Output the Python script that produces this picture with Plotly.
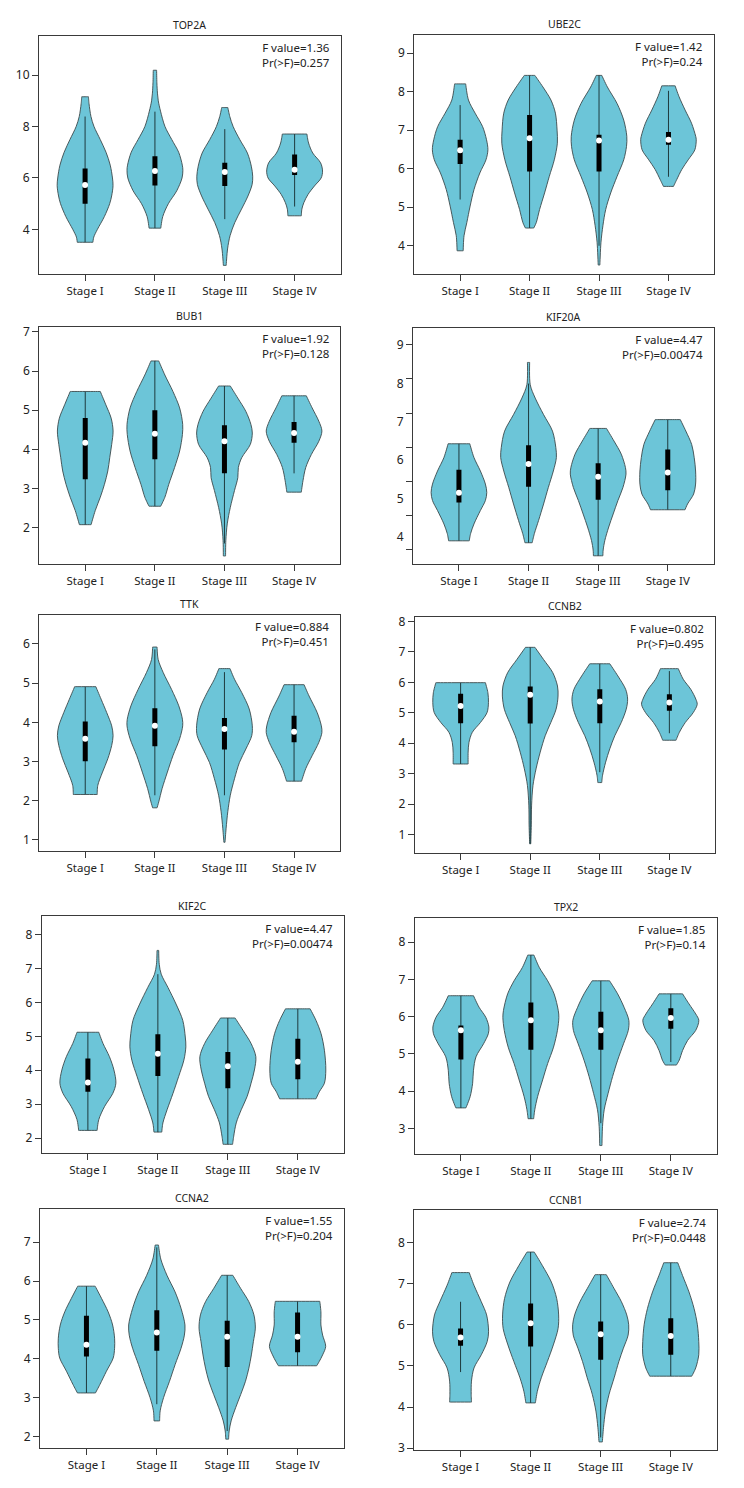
import plotly.graph_objects as go

# ---------------- data ----------------
GENES = ["TOP2A", "UBE2C", "BUB1", "KIF20A", "TTK", "CCNB2", "KIF2C", "TPX2", "CCNA2", "CCNB1"]
STAGES = ["Stage I", "Stage II", "Stage III", "Stage IV"]
F_VALUE = ["1.36", "1.42", "1.92", "4.47", "0.884", "0.802", "4.47", "1.85", "1.55", "2.74"]
P_VALUE = ["0.257", "0.24", "0.128", "0.00474", "0.451", "0.495", "0.00474", "0.14", "0.204", "0.0448"]

MEDIAN = [
    [5.73, 6.27, 6.23, 6.32], [6.48, 6.79, 6.73, 6.75], [4.17, 4.40, 4.21, 4.42],
    [5.15, 5.90, 5.57, 5.68], [3.58, 3.91, 3.83, 3.76], [5.22, 5.59, 5.37, 5.34],
    [3.64, 4.49, 4.12, 4.25], [5.63, 5.90, 5.63, 5.96], [4.36, 4.68, 4.57, 4.57],
    [5.69, 6.04, 5.77, 5.73],
]
Q1 = [
    [5.00, 5.71, 5.69, 6.12], [6.12, 5.93, 5.93, 6.62], [3.24, 3.75, 3.39, 4.17],
    [4.90, 5.31, 4.97, 5.22], [3.01, 3.39, 3.31, 3.49], [4.66, 4.65, 4.66, 5.07],
    [3.37, 3.83, 3.47, 3.74], [4.85, 5.11, 5.11, 5.67], [4.06, 4.21, 3.79, 4.17],
    [5.49, 5.47, 5.15, 5.27],
]
Q3 = [
    [6.37, 6.85, 6.59, 6.91], [6.75, 7.39, 6.88, 6.95], [4.80, 5.00, 4.62, 4.70],
    [5.75, 6.39, 5.92, 6.28], [4.02, 4.36, 4.11, 4.17], [5.63, 5.86, 5.77, 5.61],
    [4.35, 5.06, 4.54, 4.93], [5.76, 6.38, 6.13, 6.22], [5.11, 5.25, 4.98, 5.19],
    [5.91, 6.52, 6.08, 6.16],
]
WHISKER_LOW = [
    [3.50, 4.05, 4.40, 4.89], [5.20, 4.46, 4.00, 5.79], [2.08, 2.55, 1.60, 3.39],
    [3.90, 3.85, 3.51, 4.71], [2.16, 2.14, 2.14, 2.50], [3.32, 0.70, 3.05, 4.33],
    [2.23, 2.18, 1.82, 3.16], [3.55, 3.26, 3.14, 4.78], [3.12, 2.83, 2.14, 3.82],
    [4.85, 4.10, 3.26, 4.75],
]
WHISKER_HIGH = [
    [8.39, 8.58, 7.90, 7.71], [7.65, 8.42, 8.42, 8.02], [5.48, 6.26, 5.62, 5.37],
    [6.43, 8.00, 6.83, 7.06], [4.91, 5.86, 5.28, 4.96], [5.99, 7.15, 6.61, 6.37],
    [5.12, 6.83, 5.54, 5.81], [6.56, 7.65, 6.96, 6.61], [5.87, 6.87, 6.15, 5.48],
    [6.56, 7.77, 7.22, 7.51],
]

# violin outlines: (expression value, relative half-width) read from top to bottom
TOP2A_SHAPE = [
    [(9.16, .12), (8.9, .14), (8.39, .21), (8.0, .32), (7.5, .54), (7.0, .75), (6.5, .90), (6.0, .98), (5.7, 1.0), (5.3, .95), (5.0, .88), (4.5, .69), (4.0, .44), (3.7, .31), (3.5, .28)],
    [(10.19, .06), (9.7, .07), (9.3, .09), (9.0, .12), (8.6, .20), (8.0, .36), (7.5, .60), (7.0, .85), (6.5, .98), (6.3, 1.0), (6.0, .97), (5.5, .78), (5.0, .48), (4.5, .28), (4.05, .21)],
    [(8.74, .11), (8.39, .18), (8.0, .30), (7.49, .54), (6.97, .81), (6.46, .95), (6.07, 1.0), (5.75, .98), (5.3, .83), (4.79, .60), (4.27, .36), (3.76, .19), (3.24, .10), (2.6, .05)],
    [(7.71, .44), (7.36, .50), (6.97, .65), (6.59, .93), (6.27, 1.0), (6.0, .95), (5.69, .71), (5.36, .48), (5.04, .33), (4.79, .26), (4.53, .24)],
]
UBE2C_SHAPE = [
    [(8.2, .20), (7.78, .30), (7.44, .54), (7.09, .81), (6.75, .95), (6.49, 1.0), (6.23, .93), (5.89, .71), (5.46, .50), (5.03, .36), (4.6, .24), (4.26, .14), (3.87, .11)],
    [(8.42, .19), (8.12, .48), (7.78, .77), (7.44, .93), (7.0, .99), (6.66, 1.0), (6.23, .89), (5.8, .71), (5.37, .54), (4.94, .36), (4.6, .24), (4.46, .15)],
    [(8.42, .10), (8.12, .30), (7.69, .65), (7.26, .89), (6.84, 1.0), (6.58, .99), (6.23, .89), (5.8, .65), (5.37, .42), (4.94, .24), (4.52, .14), (4.09, .07), (3.5, .03)],
    [(8.15, .24), (7.87, .38), (7.52, .60), (7.18, .83), (6.84, .98), (6.75, 1.0), (6.49, .95), (6.23, .71), (5.98, .48), (5.72, .30), (5.54, .18)],
]
BUB1_SHAPE = [
    [(5.48, .54), (5.14, .74), (4.8, .93), (4.47, 1.0), (4.13, .95), (3.79, .88), (3.45, .81), (3.11, .69), (2.78, .54), (2.44, .36), (2.08, .21)],
    [(6.26, .14), (5.9, .36), (5.48, .65), (5.06, .89), (4.64, 1.0), (4.38, .99), (3.96, .89), (3.54, .71), (3.11, .50), (2.78, .36), (2.55, .21)],
    [(5.62, .21), (5.31, .48), (4.97, .77), (4.64, .95), (4.42, 1.0), (4.13, .93), (3.79, .62), (3.54, .50), (3.28, .48), (2.95, .36), (2.52, .21), (2.1, .10), (1.68, .05), (1.28, .04)],
    [(5.37, .44), (5.06, .65), (4.72, .89), (4.47, 1.0), (4.21, .89), (3.87, .62), (3.54, .42), (3.2, .32), (2.91, .26)],
]
KIF20A_SHAPE = [
    [(6.43, .39), (6.07, .54), (5.72, .77), (5.38, .95), (5.16, 1.0), (4.95, .95), (4.69, .77), (4.34, .54), (4.09, .42), (3.9, .37)],
    [(8.55, .04), (7.97, .06), (7.62, .24), (7.19, .54), (6.76, .86), (6.33, .98), (6.07, 1.0), (5.72, .89), (5.29, .71), (4.86, .54), (4.43, .36), (4.09, .21), (3.85, .13)],
    [(6.83, .30), (6.5, .57), (6.16, .83), (5.81, .98), (5.64, 1.0), (5.29, .89), (4.95, .71), (4.6, .54), (4.26, .38), (3.91, .24), (3.66, .18), (3.51, .17)],
    [(7.06, .45), (6.76, .65), (6.41, .86), (6.07, .95), (5.72, 1.0), (5.38, 1.0), (5.12, .93), (4.86, .71), (4.71, .62)],
]
TTK_SHAPE = [
    [(4.91, .38), (4.59, .57), (4.25, .77), (3.91, .95), (3.66, 1.0), (3.41, .95), (3.07, .81), (2.73, .62), (2.39, .45), (2.16, .43)],
    [(5.92, .08), (5.6, .12), (5.27, .30), (4.84, .60), (4.42, .86), (4.08, .99), (3.91, 1.0), (3.58, .89), (3.15, .65), (2.73, .45), (2.31, .26), (1.97, .14), (1.82, .08)],
    [(5.37, .20), (5.1, .36), (4.76, .62), (4.34, .89), (3.91, 1.0), (3.66, .98), (3.32, .77), (2.98, .54), (2.56, .36), (2.14, .21), (1.72, .12), (1.3, .06), (0.94, .02)],
    [(4.96, .36), (4.67, .54), (4.25, .83), (3.91, .98), (3.74, 1.0), (3.49, .89), (3.15, .65), (2.82, .42), (2.5, .27)],
]
CCNB2_SHAPE = [
    [(5.99, .89), (5.66, .98), (5.34, 1.0), (5.01, .95), (4.68, .71), (4.36, .42), (4.03, .30), (3.71, .27), (3.32, .27)],
    [(7.15, .17), (6.75, .48), (6.32, .81), (5.88, .98), (5.55, 1.0), (5.12, .93), (4.68, .74), (4.25, .54), (3.71, .36), (3.16, .21), (2.62, .10), (1.97, .05), (1.32, .04), (0.7, .02)],
    [(6.61, .36), (6.21, .65), (5.77, .93), (5.45, 1.0), (5.12, .95), (4.68, .77), (4.25, .54), (3.82, .36), (3.38, .21), (2.95, .10), (2.71, .07)],
    [(6.45, .32), (6.1, .50), (5.77, .77), (5.45, .95), (5.28, 1.0), (5.01, .86), (4.68, .57), (4.36, .36), (4.1, .24)],
]
KIF2C_SHAPE = [
    [(5.12, .39), (4.79, .54), (4.4, .77), (4.01, .93), (3.62, 1.0), (3.32, .89), (2.94, .60), (2.55, .39), (2.23, .33)],
    [(7.53, .03), (7.12, .05), (6.83, .12), (6.44, .36), (5.95, .65), (5.47, .89), (4.98, .98), (4.69, 1.0), (4.3, .93), (3.81, .74), (3.32, .54), (2.84, .33), (2.45, .18), (2.18, .14)],
    [(5.54, .26), (5.18, .54), (4.79, .83), (4.4, 1.0), (4.01, .95), (3.62, .83), (3.23, .69), (2.84, .48), (2.45, .30), (2.06, .21), (1.82, .17)],
    [(5.81, .44), (5.47, .65), (5.08, .83), (4.59, .95), (4.01, 1.0), (3.62, .95), (3.37, .77), (3.16, .65)],
]
TPX2_SHAPE = [
    [(6.56, .45), (6.25, .65), (5.98, .89), (5.72, 1.0), (5.54, .98), (5.27, .81), (4.92, .54), (4.56, .45), (4.21, .42), (3.85, .33), (3.55, .18)],
    [(7.65, .11), (7.32, .30), (6.96, .60), (6.61, .83), (6.16, .98), (5.98, 1.0), (5.63, .95), (5.18, .81), (4.74, .60), (4.3, .42), (3.85, .24), (3.5, .14), (3.26, .10)],
    [(6.96, .31), (6.61, .60), (6.25, .83), (5.9, 1.0), (5.63, .98), (5.27, .81), (4.83, .60), (4.39, .42), (3.94, .26), (3.5, .12), (3.05, .06), (2.54, .04)],
    [(6.61, .42), (6.34, .65), (6.07, .89), (5.9, 1.0), (5.63, .89), (5.36, .60), (5.09, .42), (4.83, .30), (4.7, .20)],
]
CCNA2_SHAPE = [
    [(5.87, .31), (5.55, .54), (5.21, .77), (4.87, .93), (4.53, 1.0), (4.27, 1.0), (4.02, .95), (3.68, .71), (3.34, .48), (3.12, .32)],
    [(6.93, .06), (6.57, .14), (6.15, .36), (5.72, .65), (5.3, .86), (4.87, 1.0), (4.61, .98), (4.27, .86), (3.85, .65), (3.42, .45), (3.0, .24), (2.66, .12), (2.4, .10)],
    [(6.15, .20), (5.81, .48), (5.47, .77), (5.13, .95), (4.79, 1.0), (4.44, .93), (4.1, .86), (3.76, .77), (3.42, .65), (3.08, .48), (2.74, .30), (2.4, .14), (2.14, .07), (1.93, .05)],
    [(5.48, .79), (5.21, .83), (4.87, .83), (4.61, .89), (4.32, 1.0), (4.1, .89), (3.93, .77), (3.82, .68)],
]
CCNB1_SHAPE = [
    [(7.27, .31), (6.96, .48), (6.56, .74), (6.24, .93), (5.83, 1.0), (5.59, .95), (5.27, .74), (4.95, .48), (4.63, .39), (4.31, .38), (4.12, .39)],
    [(7.77, .13), (7.44, .42), (7.04, .74), (6.64, .93), (6.24, 1.0), (5.91, .98), (5.51, .81), (5.11, .60), (4.71, .38), (4.38, .24), (4.1, .17)],
    [(7.22, .20), (6.88, .48), (6.56, .74), (6.24, .93), (6.0, 1.0), (5.75, .98), (5.43, .81), (5.11, .65), (4.71, .48), (4.31, .30), (3.9, .17), (3.5, .10), (3.15, .06)],
    [(7.51, .25), (7.2, .42), (6.8, .65), (6.4, .83), (6.0, .95), (5.59, 1.0), (5.27, 1.0), (4.95, .89), (4.75, .75)],
]
SHAPES = [TOP2A_SHAPE, UBE2C_SHAPE, BUB1_SHAPE, KIF20A_SHAPE, TTK_SHAPE,
          CCNB2_SHAPE, KIF2C_SHAPE, TPX2_SHAPE, CCNA2_SHAPE, CCNB1_SHAPE]

# ---------------- layout (target page pixels in a 744 x 1488 window) ----------------
PAGE_OFFSET = 8          # default body margin of the html page
W, H = 744 - 2 * PAGE_OFFSET, 1488 - 2 * PAGE_OFFSET
PANEL_BOX = [  # left, right, top, bottom (page pixels)
    (39.0, 340.7, 31.7, 271.7), (414.3, 714.3, 30.7, 271.7),
    (39.3, 340.0, 325.0, 564.0), (413.0, 713.7, 325.7, 564.0),
    (39.3, 340.0, 615.0, 852.7), (414.7, 715.3, 616.7, 855.0),
    (41.7, 344.0, 918.3, 1157.3), (414.7, 717.0, 920.0, 1158.3),
    (40.0, 344.0, 1212.7, 1454.3), (414.3, 717.0, 1214.3, 1456.0),
]
Y_RANGE = [(2.27, 11.54), (3.27, 9.48), (1.07, 7.13), (3.29, 9.46), (0.72, 6.74),
           (0.39, 8.16), (1.55, 8.54), (2.30, 8.65), (1.69, 7.87), (2.95, 8.79)]
Y_TICKS = [[4, 6, 8, 10], [4, 5, 6, 7, 8, 9], [2, 3, 4, 5, 6, 7], [4, 5, 6, 7, 8, 9],
           [1, 2, 3, 4, 5, 6], [1, 2, 3, 4, 5, 6, 7, 8], [2, 3, 4, 5, 6, 7, 8],
           [3, 4, 5, 6, 7, 8], [2, 3, 4, 5, 6, 7], [3, 4, 5, 6, 7, 8]]
# KIF20A panel: tick marks in the source sit apart from its labels
KIF20A_MARKS = [9.02, 8.12, 7.23, 6.34, 5.45, 4.56, 3.68]

FILL = "#6cc5d8"
EDGE = "#3c4a4c"
AXIS = "#3a3a3a"
HALF = 0.4


def mkfont(size):
    f = dict(family="Noto Sans", size=size, color="#222")
    try:
        go.layout.annotation.Font(stretch="condensed")
        f["stretch"] = "condensed"
    except Exception:
        pass
    return f


def px(v):
    return v - PAGE_OFFSET


fig = go.Figure()
annotations = []


def outline(center, prof):
    pts = sorted(prof, key=lambda p: p[0])
    ys = [p[0] for p in pts]
    ws = [p[1] * HALF for p in pts]
    rx = [center + w for w in ws]
    lx = [center - w for w in ws][::-1]
    ly = ys[::-1]
    xs = [rx[0]] + rx + [rx[-1]] + [lx[0]] + lx + [lx[-1], rx[0]]
    yv = [ys[0]] + ys + [ys[-1]] + [ly[0]] + ly + [ly[-1], ys[0]]
    return xs, yv


for g, gene in enumerate(GENES):
    k = "" if g == 0 else str(g + 1)
    xr, yr = "x" + k, "y" + k
    for s in range(4):
        c = s + 1
        xs, ys = outline(c, SHAPES[g][s])
        fig.add_trace(go.Scatter(
            x=xs, y=ys, xaxis=xr, yaxis=yr, mode="lines", fill="toself",
            fillcolor=FILL, line=dict(color=EDGE, width=0.9, shape="spline",
                                      smoothing=0.9, simplify=False),
            hoverinfo="skip", showlegend=False))
        fig.add_trace(go.Scatter(
            x=[c, c], y=[WHISKER_LOW[g][s], WHISKER_HIGH[g][s]], xaxis=xr, yaxis=yr,
            mode="lines", line=dict(color="#1e3a3e", width=1), hoverinfo="skip",
            showlegend=False))
        fig.add_trace(go.Scatter(
            x=[c, c], y=[Q1[g][s], Q3[g][s]], xaxis=xr, yaxis=yr,
            mode="lines", line=dict(color="black", width=5), hoverinfo="skip",
            showlegend=False))
        fig.add_trace(go.Scatter(
            x=[c], y=[MEDIAN[g][s]], xaxis=xr, yaxis=yr, mode="markers",
            marker=dict(color="white", size=6, line=dict(width=0)),
            hoverinfo="skip", showlegend=False))

    left, right, top, bottom = [px(v) for v in PANEL_BOX[g]]
    dom_x = [left / W, right / W]
    dom_y = [1 - bottom / H, 1 - top / H]
    xaxis = dict(domain=dom_x, range=[0.34, 4.66], anchor=yr, tickmode="array",
                 tickvals=[1, 2, 3, 4], ticktext=STAGES, ticks="outside", ticklen=6,
                 tickwidth=1, tickcolor=AXIS, showline=True, linecolor=AXIS,
                 linewidth=1, mirror=True, showgrid=False, zeroline=False,
                 tickfont=mkfont(11.5), fixedrange=True)
    yaxis = dict(domain=dom_y, range=list(Y_RANGE[g]), anchor=xr, tickmode="array",
                 tickvals=Y_TICKS[g], ticks="outside", ticklen=6, tickwidth=1,
                 tickcolor=AXIS, showline=True, linecolor=AXIS, linewidth=1,
                 mirror=True, showgrid=False, zeroline=False,
                 tickfont=mkfont(12), fixedrange=True)
    if gene == "KIF20A":
        yaxis["tickcolor"] = "rgba(0,0,0,0)"
        yaxis["minor"] = dict(tickmode="array", tickvals=KIF20A_MARKS, ticks="outside",
                              ticklen=6, tickwidth=1, tickcolor=AXIS, showgrid=False)
    fig.update_layout(**{"xaxis" + k: xaxis, "yaxis" + k: yaxis})

    annotations.append(dict(
        text=gene, xref="paper", yref="paper", x=(left + right) / 2 / W,
        y=1 - (top - 10.5) / H, xanchor="center", yanchor="middle", showarrow=False,
        font=mkfont(10.5)))
    annotations.append(dict(
        text=f"F value={F_VALUE[g]}<br>Pr(&gt;F)={P_VALUE[g]}", xref="paper", yref="paper",
        x=(right - 9) / W, y=1 - (top + 2.5) / H, xanchor="right", yanchor="top",
        align="right", showarrow=False, font=mkfont(11.5)))

fig.update_layout(
    width=W, height=H, margin=dict(l=0, r=0, t=0, b=0),
    paper_bgcolor="white", plot_bgcolor="white", annotations=annotations,
    showlegend=False)

fig.write_html("out.html")
